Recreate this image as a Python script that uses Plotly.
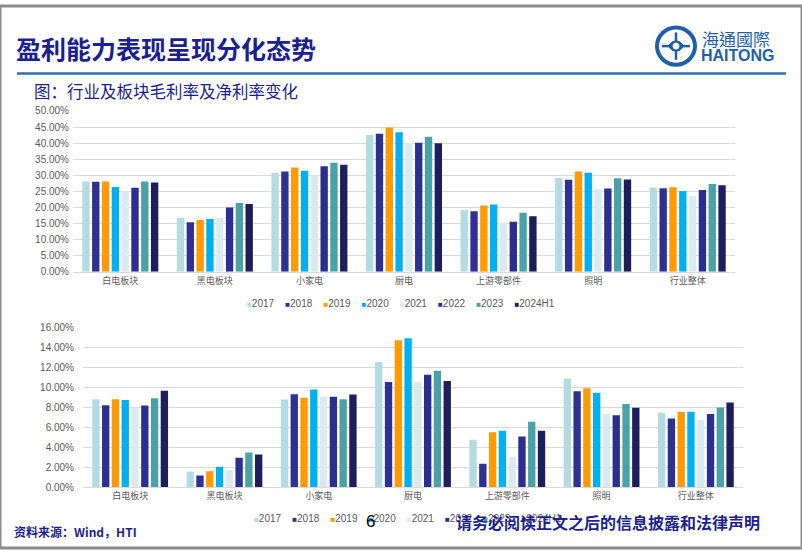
import plotly.graph_objects as go

W, H = 802, 554

categories = ["白电板块", "黑电板块", "小家电", "厨电", "上游零部件", "照明", "行业整体"]
years = ["2017", "2018", "2019", "2020", "2021", "2022", "2023", "2024H1"]
colors = ["#b4dbe1", "#2e3192", "#ff9a00", "#00b0f0", "#d9ebf0", "#2b2f8f", "#4aa2a7", "#1d1f5c"]

# gross margin (%), one list per year, in category order
gross_2017 = [28.1, 16.8, 30.7, 42.5, 19.2, 29.2, 26.2]
gross_2018 = [28.0, 15.4, 31.2, 42.9, 18.8, 28.6, 26.0]
gross_2019 = [28.1, 16.1, 32.4, 44.9, 20.6, 31.2, 26.3]
gross_2020 = [26.4, 16.4, 31.4, 43.4, 20.9, 30.8, 25.1]
gross_2021 = [25.0, 16.7, 30.0, 40.1, 15.3, 25.7, 23.6]
gross_2022 = [26.1, 20.0, 32.8, 40.1, 15.6, 25.9, 25.4]
gross_2023 = [28.1, 21.4, 33.9, 42.0, 18.4, 29.1, 27.3]
gross_2024h1 = [27.8, 21.1, 33.3, 40.0, 17.3, 28.7, 26.9]

# net margin (%)
net_2017 = [8.82, 1.57, 8.79, 12.56, 4.75, 10.92, 7.48]
net_2018 = [8.23, 1.15, 9.34, 10.56, 2.33, 9.64, 6.89]
net_2019 = [8.82, 1.60, 8.98, 14.75, 5.51, 9.93, 7.54]
net_2020 = [8.75, 2.03, 9.80, 14.95, 5.67, 9.48, 7.57]
net_2021 = [8.00, 1.70, 9.11, 10.59, 3.02, 7.34, 6.75]
net_2022 = [8.20, 2.95, 9.08, 11.28, 5.08, 7.21, 7.34]
net_2023 = [8.92, 3.48, 8.82, 11.70, 6.56, 8.36, 8.00]
net_2024h1 = [9.67, 3.28, 9.31, 10.66, 5.67, 7.97, 8.49]

gross = [gross_2017, gross_2018, gross_2019, gross_2020, gross_2021, gross_2022, gross_2023, gross_2024h1]
net = [net_2017, net_2018, net_2019, net_2020, net_2021, net_2022, net_2023, net_2024h1]

NAVY = "#1c1f8f"
GREY = "#595959"


def px(x):
    return x / W


def py(y):
    return 1 - y / H


fig = go.Figure()

for i, yr in enumerate(years):
    fig.add_trace(go.Bar(x=categories, y=gross[i], name=yr, marker_color=colors[i],
                         marker_line_width=0, showlegend=False, xaxis="x", yaxis="y"))
for i, yr in enumerate(years):
    fig.add_trace(go.Bar(x=categories, y=net[i], name=yr, marker_color=colors[i],
                         marker_line_width=0, showlegend=False, xaxis="x2", yaxis="y2"))

axis_common = dict(showline=True, linecolor="#d9d9d9", linewidth=1, ticks="",
                   tickfont=dict(family="Noto Sans CJK SC", size=9, color=GREY))
yaxis_common = dict(showline=False, gridcolor="#d9d9d9", gridwidth=1, zeroline=False,
                    tickformat=".2f", ticksuffix="%",
                    tickfont=dict(family="Liberation Sans", size=10, color=GREY))

fig.update_layout(
    width=W, height=H,
    margin=dict(l=0, r=0, t=0, b=0),
    paper_bgcolor="white", plot_bgcolor="white",
    barmode="group", bargap=0.17, bargroupgap=0.25,
    xaxis=dict(domain=[px(73), px(735)], anchor="y", **axis_common),
    yaxis=dict(domain=[py(271.7), py(107.3)], range=[0, 50], dtick=5, anchor="x",
               ticklabelstandoff=3, **yaxis_common),
    xaxis2=dict(domain=[px(83), px(743)], anchor="y2", **axis_common),
    yaxis2=dict(domain=[py(491.7), py(329)], range=[0, 16], dtick=2, anchor="x2",
                ticklabelstandoff=8, **yaxis_common),
)

# legends built from the series names and colours
legend_text = "&nbsp;&nbsp;&nbsp;&nbsp;".join(
    f"<span style='color:{c};font-size:8px'>■</span>{y}" for y, c in zip(years, colors))
leg_font = dict(family="Liberation Sans", size=10, color=GREY)

annotations = [
    dict(x=px(245), y=py(304), text=legend_text, font=leg_font, xanchor="left"),
    dict(x=px(252), y=py(524), text=legend_text, font=leg_font, xanchor="left"),
    dict(x=px(14), y=py(43), text="<b>盈利能力表现呈现分化态势</b>", xanchor="left",
         font=dict(family="Noto Sans CJK SC", size=25, color=NAVY)),
    dict(x=px(32), y=py(87), text="图：行业及板块毛利率及净利率变化", xanchor="left",
         font=dict(family="Noto Sans CJK SC", size=16.5, color=NAVY)),
    dict(x=px(700), y=py(33), text="海通國際", xanchor="left",
         font=dict(family="Noto Sans CJK TC", size=17, color="#1f5fa8")),
    dict(x=px(699), y=py(51), text="<b>HAITONG</b>", xanchor="left",
         font=dict(family="Liberation Sans", size=16, color="#1f5fa8")),
    dict(x=px(12), y=py(537), text="<b>资料来源：Wind，HTI</b>", xanchor="left",
         font=dict(family="Noto Sans CJK SC", size=12, color=NAVY)),
    dict(x=px(370), y=py(527), text="6",
         font=dict(family="Liberation Sans", size=17, color="black")),
    dict(x=px(454), y=py(527), text="<b>请务必阅读正文之后的信息披露和法律声明</b>", xanchor="left",
         font=dict(family="Noto Sans CJK SC", size=16, color=NAVY)),
]
for a in annotations:
    a.update(xref="paper", yref="paper", showarrow=False, yanchor="middle")
fig.update_layout(annotations=annotations)

shapes = [
    # slide frame
    dict(type="rect", x0=0, x1=1, y0=0, y1=1, line=dict(color="#8c8c8c", width=3)),
    # rule under the title
    dict(type="line", x0=px(17), x1=px(786), y0=py(69), y1=py(69),
         line=dict(color="#2e6db4", width=2.5)),
    # logo
    dict(type="circle", x0=px(657), x1=px(695), y0=py(60), y1=py(22),
         line=dict(color="#1f5fa8", width=4)),
    dict(type="path", path=f"M {px(668)},{py(41)} Q {px(676)},{py(30)} {px(684)},{py(41)} "
                           f"Q {px(676)},{py(52)} {px(668)},{py(41)} Z",
         fillcolor="#1f5fa8", line=dict(color="#1f5fa8", width=1)),
    dict(type="line", x0=px(676), x1=px(676), y0=py(27), y1=py(55),
         line=dict(color="#1f5fa8", width=2.5)),
    dict(type="line", x0=px(662), x1=px(690), y0=py(41), y1=py(41),
         line=dict(color="#1f5fa8", width=2.5)),
    dict(type="circle", x0=px(673), x1=px(679), y0=py(44), y1=py(38),
         fillcolor="white", line=dict(color="white", width=1)),
]
for s in shapes:
    s.update(xref="paper", yref="paper")
fig.update_layout(shapes=shapes)

fig.write_html("out.html", config={"displayModeBar": False},
               post_script="document.body.style.margin='0';document.body.style.overflow='hidden';")
